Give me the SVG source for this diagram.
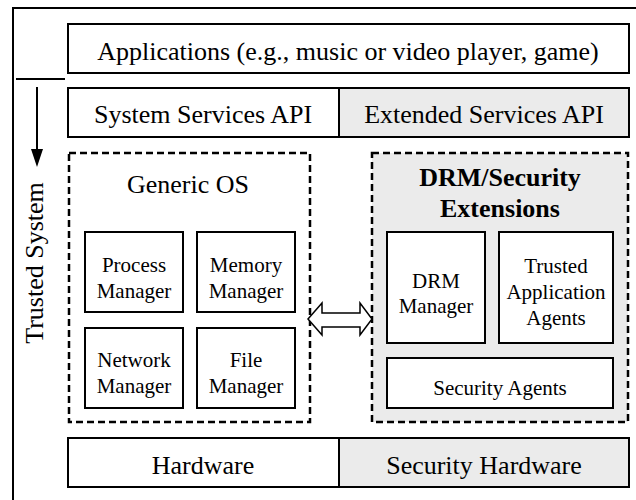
<svg xmlns="http://www.w3.org/2000/svg" width="636" height="500" viewBox="0 0 636 500">
<style>
.box{fill:#fff;stroke:#000;stroke-width:2}
.gray{fill:#ebebeb;stroke:#000;stroke-width:2}
.dash{stroke:#000;stroke-width:2.5;stroke-dasharray:7,4}
text{font-family:"Liberation Serif","Times New Roman",serif;fill:#000;text-anchor:middle}
.big{font-size:26px}
.sm{font-size:21px}
.b{font-weight:bold}
</style>
<g id="frame">
<path d="M13,500 V8 H636" fill="none" stroke="#000" stroke-width="2"/>
<line x1="16" y1="79" x2="65" y2="79" stroke="#000" stroke-width="2"/>
</g>
<g id="trusted-system">
<line x1="37" y1="87" x2="37" y2="150" stroke="#000" stroke-width="2"/>
<polygon points="31,149 43,149 37,167" fill="#000"/>
<text class="big" transform="translate(43,263) rotate(-90)">Trusted System</text>
</g>
<g id="applications">
<rect class="box" x="68" y="24" width="561" height="49"/>
<text class="big" x="348" y="60">Applications (e.g., music or video player, game)</text>
</g>
<g id="system-services-api">
<rect class="box" x="68" y="88" width="271" height="49"/>
<text class="big" x="203" y="123">System Services API</text>
</g>
<g id="extended-services-api">
<rect class="gray" x="339" y="88" width="290" height="49"/>
<text class="big" x="484" y="123">Extended Services API</text>
</g>
<g id="generic-os">
<rect class="dash" fill="none" x="69" y="153" width="241" height="269"/>
<text class="big" x="188" y="193">Generic OS</text>
</g>
<g id="process-manager">
<rect class="box" x="85" y="232" width="98" height="80"/>
<text class="sm" x="134" y="272">Process</text>
<text class="sm" x="134" y="298">Manager</text>
</g>
<g id="memory-manager">
<rect class="box" x="197" y="232" width="98" height="80"/>
<text class="sm" x="246" y="272">Memory</text>
<text class="sm" x="246" y="298">Manager</text>
</g>
<g id="network-manager">
<rect class="box" x="85" y="328" width="98" height="80"/>
<text class="sm" x="134" y="367">Network</text>
<text class="sm" x="134" y="393">Manager</text>
</g>
<g id="file-manager">
<rect class="box" x="197" y="328" width="98" height="80"/>
<text class="sm" x="246" y="367">File</text>
<text class="sm" x="246" y="393">Manager</text>
</g>
<g id="drm-security-extensions">
<rect class="dash" fill="#ebebeb" x="372" y="153" width="256" height="269"/>
<text class="big b" x="500" y="186">DRM/Security</text>
<text class="big b" x="500" y="217">Extensions</text>
</g>
<g id="drm-manager">
<rect class="box" x="387" y="232" width="98" height="111"/>
<text class="sm" x="436" y="288">DRM</text>
<text class="sm" x="436" y="313">Manager</text>
</g>
<g id="trusted-application-agents">
<rect class="box" x="499" y="232" width="114" height="111"/>
<text class="sm" x="556" y="273">Trusted</text>
<text class="sm" x="556" y="299">Application</text>
<text class="sm" x="556" y="325">Agents</text>
</g>
<g id="security-agents">
<rect class="box" x="387" y="358" width="226" height="50"/>
<text class="sm" x="500" y="395">Security Agents</text>
</g>
<g id="hardware">
<rect class="box" x="68" y="438" width="271" height="49"/>
<text class="big" x="203" y="474">Hardware</text>
</g>
<g id="security-hardware">
<rect class="gray" x="339" y="438" width="290" height="49"/>
<text class="big" x="484" y="474">Security Hardware</text>
</g>
<g id="connectors">
<polygon points="308,319 322,303 322,313 360,313 360,303 372,319 360,335 360,327 322,327 322,335" fill="#fff" stroke="#000" stroke-width="1.5" stroke-linejoin="miter"/>
</g>
</svg>
